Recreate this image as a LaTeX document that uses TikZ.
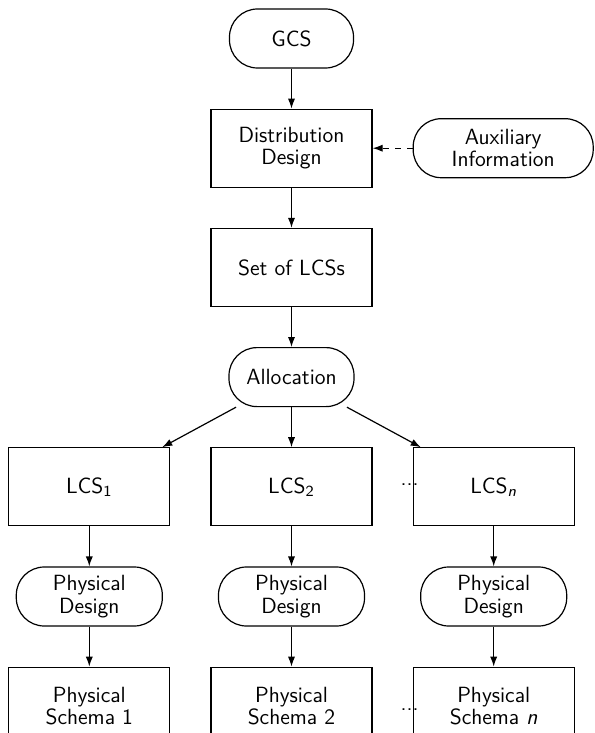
\documentclass[tikz,border=0pt]{standalone}
\usepackage{tikz}
\usetikzlibrary{positioning,arrows.meta}

\begin{document}
\begin{tikzpicture}[
  node distance=20pt,
  >={Latex[length=5pt,width=3.6pt]},
  font=\sffamily\fontsize{11}{11.2}\selectfont,
  box/.style={rectangle, draw, semithick, minimum width=80.5pt, minimum height=39pt, align=center},
  term/.style={rectangle, draw, semithick, rounded corners=14pt, minimum height=29.5pt, align=center}
]
\clip (-145.75pt,-347.25pt) rectangle (151.25pt,19.25pt);
\node[term, minimum width=62pt] (gcs) at (0,0) {GCS};
\node[box, below=of gcs] (dist) {Distribution\\Design};
\node[term, minimum width=90pt, right=of dist] (aux) {Auxiliary\\Information};
\node[box, below=of dist] (lcsset) {Set of LCSs};
\node[term, minimum width=62.5pt, below=of lcsset] (alloc) {Allocation};
\node[box, below=of alloc] (lcs2) {LCS\textsubscript{2}};
\node[box, left=of lcs2] (lcs1) {LCS\textsubscript{1}};
\node[box, right=of lcs2] (lcsn) {LCS\textsubscript{\textit{n}}};
\node[term, minimum width=73pt, below=of lcs1] (pd1) {Physical\\Design};
\node[term, minimum width=73pt, below=of lcs2] (pd2) {Physical\\Design};
\node[term, minimum width=73pt, below=of lcsn] (pdn) {Physical\\Design};
\node[box, below=of pd1] (ps1) {Physical\\Schema 1};
\node[box, below=of pd2] (ps2) {Physical\\Schema 2};
\node[box, below=of pdn] (psn) {Physical\\Schema \textit{n}};
\node[inner sep=0pt] (dotsa) at ([xshift=-1.5pt,yshift=1pt]lcsn.west) {...};
\node[inner sep=0pt] (dotsb) at ([xshift=-1.5pt,yshift=-1.5pt]psn.west) {...};

\draw[->, semithick] (gcs) -- (dist);
\draw[->, semithick, dashed] (aux) -- (dist);
\draw[->, semithick] (dist) -- (lcsset);
\draw[->, semithick] (lcsset) -- (alloc);
\draw[->, semithick] (alloc) -- (lcs1);
\draw[->, semithick] (alloc) -- (lcs2);
\draw[->, semithick] (alloc) -- (lcsn);
\draw[->, semithick] (lcs1) -- (pd1);
\draw[->, semithick] (lcs2) -- (pd2);
\draw[->, semithick] (lcsn) -- (pdn);
\draw[->, semithick] (pd1) -- (ps1);
\draw[->, semithick] (pd2) -- (ps2);
\draw[->, semithick] (pdn) -- (psn);
\end{tikzpicture}
\end{document}
